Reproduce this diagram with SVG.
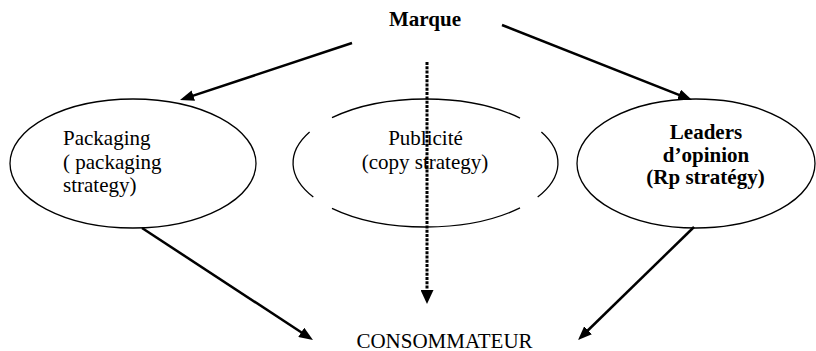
<svg xmlns="http://www.w3.org/2000/svg" width="816" height="351" viewBox="0 0 816 351">
<style>
  .bg { fill: #ffffff; }
  .shape { fill: none; stroke: #000000; stroke-width: 1.3; }
  .txt { font-family: "Liberation Serif", "Times New Roman", serif; font-size: 21px; fill: #000000; }
  .b { font-weight: bold; }
  .arrow { stroke: #000000; stroke-width: 2.5; fill: none; marker-end: url(#ah); }
  .dotted { stroke: #000000; stroke-width: 3; fill: none; stroke-dasharray: 3 1.3; marker-end: url(#ahd); }
</style>
<defs>
  <marker id="ah" markerUnits="userSpaceOnUse" markerWidth="14" markerHeight="11" refX="4" refY="5.5" orient="auto">
    <path d="M0,0 L14,5.5 L0,11 z" fill="#000000"/>
  </marker>
  <marker id="ahd" markerUnits="userSpaceOnUse" markerWidth="14" markerHeight="13" refX="4" refY="6.5" orient="auto">
    <path d="M0,0 L14,6.5 L0,13 z" fill="#000000"/>
  </marker>
</defs>
<rect class="bg" x="0" y="0" width="816" height="351"/>

<g id="marque">
  <text class="txt b" x="425" y="26" text-anchor="middle">Marque</text>
</g>

<g id="packaging">
  <ellipse class="shape" cx="133" cy="163.5" rx="123" ry="64.5"/>
  <text class="txt" x="63" y="145">Packaging</text>
  <text class="txt" x="63" y="168.5">( packaging</text>
  <text class="txt" x="63" y="192">strategy)</text>
</g>

<g id="publicite">
  <path class="shape" d="M332,117.7 A132.5,64 0 0 1 520,118.1"/>
  <path class="shape" d="M541.4,132 A132.5,64 0 0 1 537.7,197"/>
  <path class="shape" d="M520,207.9 A132.5,64 0 0 1 332,208.3"/>
  <path class="shape" d="M313.3,197 A132.5,64 0 0 1 309.6,132"/>
  <text class="txt" x="425.5" y="145" text-anchor="middle">Publicité</text>
  <text class="txt" x="425" y="168.5" text-anchor="middle">(copy strategy)</text>
</g>

<g id="leaders">
  <ellipse class="shape" cx="696" cy="163.5" rx="119" ry="64.5"/>
  <text class="txt b" x="706" y="138.5" text-anchor="middle">Leaders</text>
  <text class="txt b" x="706" y="161.5" text-anchor="middle">d’opinion</text>
  <text class="txt b" x="705.5" y="184" text-anchor="middle">(Rp stratégy)</text>
</g>

<g id="consommateur">
  <text class="txt" x="444.5" y="347.5" text-anchor="middle">CONSOMMATEUR</text>
</g>

<g id="connectors">
  <line class="arrow" x1="352" y1="43" x2="189.5" y2="96.9"/>
  <line class="arrow" x1="502" y1="25" x2="682.7" y2="96.3"/>
  <line class="dotted" x1="427" y1="62" x2="427" y2="294"/>
  <line class="arrow" x1="142" y1="228" x2="304.6" y2="334.5"/>
  <line class="arrow" x1="694" y1="227" x2="585.2" y2="333"/>
</g>
</svg>
